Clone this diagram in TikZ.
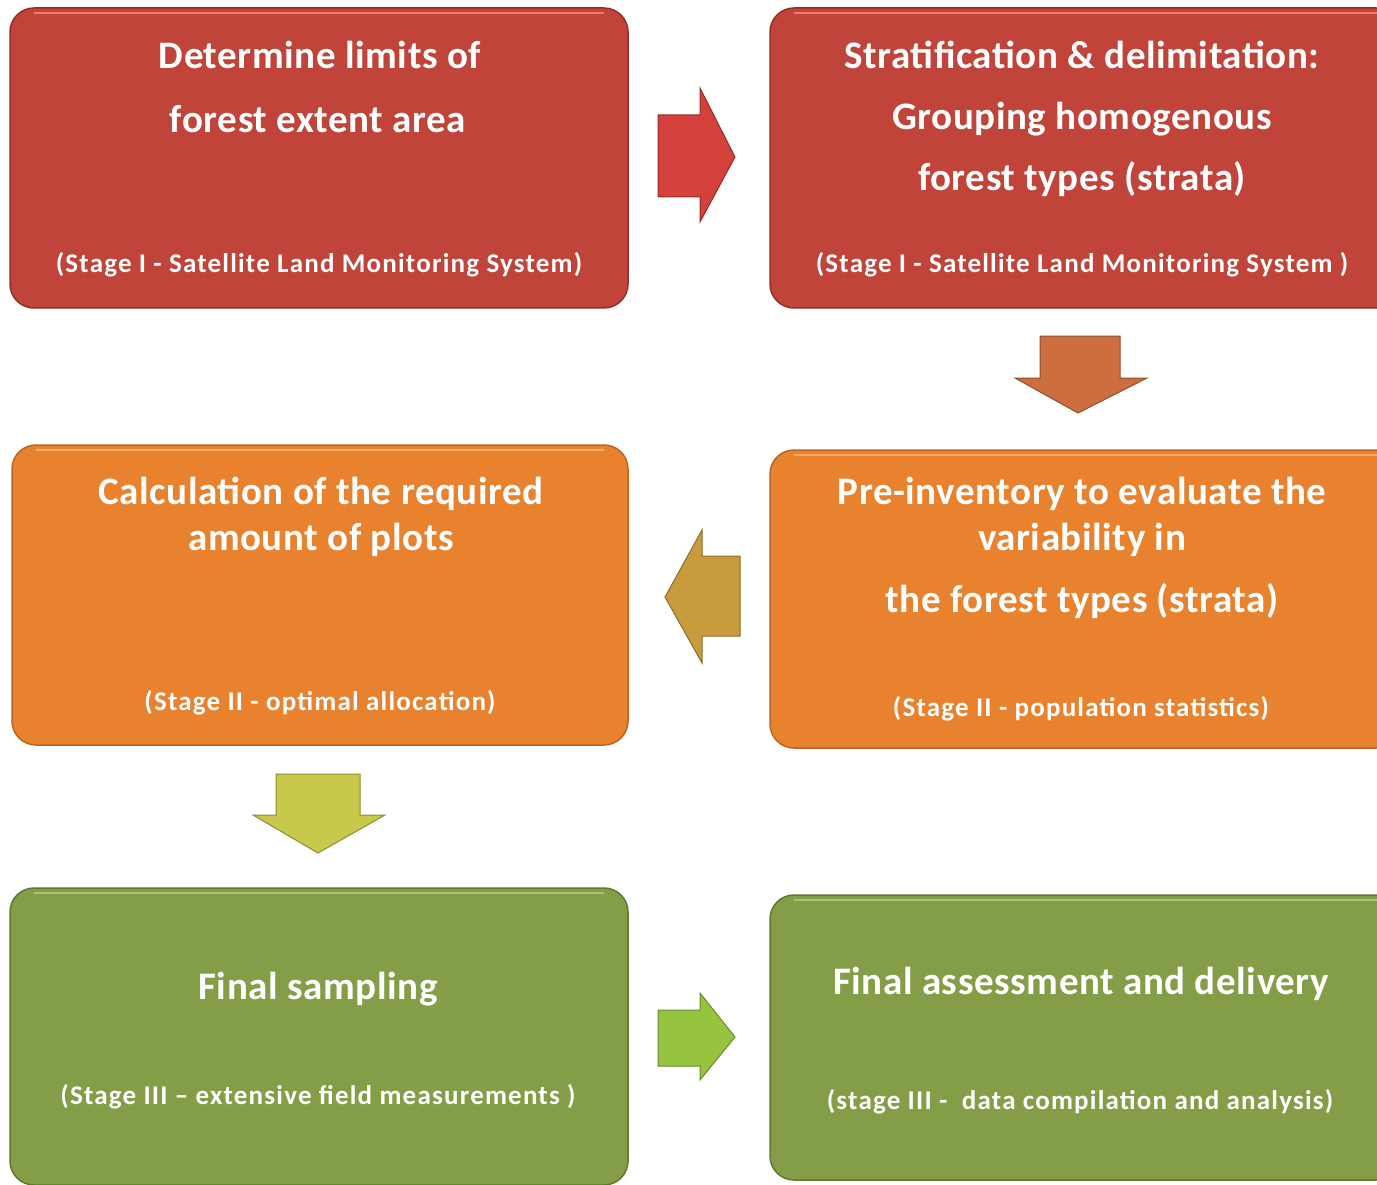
\documentclass[tikz,border=0pt]{standalone}
\usepackage{fontspec}
\setmainfont{Carlito}
\newfontfamily\titlefont[LetterSpace=1.5]{Carlito}
\newfontfamily\subfont[LetterSpace=4.5]{Carlito}
\usetikzlibrary{calc}
\definecolor{redbox}{RGB}{192,68,58}
\definecolor{rededge}{RGB}{150,45,38}
\definecolor{redhi}{RGB}{240,120,110}
\definecolor{orbox}{RGB}{232,130,46}
\definecolor{oredge}{RGB}{190,100,30}
\definecolor{orhi}{RGB}{250,170,100}
\definecolor{grbox}{RGB}{131,158,70}
\definecolor{gredge}{RGB}{95,120,50}
\definecolor{grhi}{RGB}{170,195,110}
\definecolor{arred}{RGB}{212,64,60}
\definecolor{arorange}{RGB}{205,110,62}
\definecolor{argold}{RGB}{200,155,60}
\definecolor{aryellow}{RGB}{200,200,74}
\definecolor{argreen}{RGB}{150,196,62}
\tikzset{
  x=1pt,y=-1pt,
  box/.style={rounded corners=24pt,line width=1.5pt},
  title/.style={text=white,font=\titlefont\bfseries\fontsize{39}{44}\selectfont,inner sep=0pt,anchor=center},
  sub/.style={text=white,font=\subfont\bfseries\fontsize{27}{30}\selectfont,inner sep=0pt,anchor=center},
  blockarrow/.style={line width=1pt,line join=miter}
}
\begin{document}
\begin{tikzpicture}
\useasboundingbox (0,0) rectangle (1377,1185);
% boxes
\fill[redbox,box,draw=rededge] (10,8) rectangle (628,308);
\fill[redbox,box,draw=rededge] (770,8) rectangle (1400,308);
\fill[orbox,box,draw=oredge] (12,445) rectangle (628,745);
\fill[orbox,box,draw=oredge] (770,450) rectangle (1400,748);
\fill[grbox,box,draw=gredge] (10,888) rectangle (628,1185);
\fill[grbox,box,draw=gredge] (770,895) rectangle (1400,1180);
% top highlights
\draw[redhi,line width=2pt] (34,13) -- (604,13);
\draw[redhi,line width=2pt] (794,13) -- (1377,13);
\draw[orhi,line width=2pt] (36,450) -- (604,450);
\draw[orhi,line width=2pt] (794,455) -- (1377,455);
\draw[grhi,line width=2pt] (34,893) -- (604,893);
\draw[grhi,line width=2pt] (794,900) -- (1377,900);
% box 1
\node[title] (b1a) at (320,55) {Determine limits of};
\node[title] (b1b) at (318,119) {forest extent area};
\node[sub] (b1s) at (319,265) {(Stage I - Satellite Land Monitoring System)};
% box 2
\node[title] (b2a) at (1082,55) {Stratification \& delimitation:};
\node[title] (b2b) at (1082,119) {Grouping homogenous};
\node[title] (b2c) at (1082,179) {forest types (strata)};
\node[sub] (b2s) at (1082,265) {(Stage I - Satellite Land Monitoring System )};
% box 3
\node[title] (b3a) at (321,494) {Calculation of the required};
\node[title] (b3b) at (321,540) {amount of plots};
\node[sub] (b3s) at (320,703) {(Stage II - optimal allocation)};
% box 4
\node[title] (b4a) at (1082,494) {Pre-inventory to evaluate the};
\node[title] (b4b) at (1082,540) {variability in};
\node[title] (b4c) at (1082,601) {the forest types (strata)};
\node[sub] (b4s) at (1081,709) {(Stage II - population statistics)};
% box 5
\node[title] (b5a) at (318,989) {Final sampling};
\node[sub] (b5s) at (318,1097) {(Stage III – extensive field measurements )};
% box 6
\node[title] (b6a) at (1081,984) {Final assessment and delivery};
\node[sub] (b6s) at (1080,1102) {(stage III -\ \ data compilation and analysis)};
% block arrows
\filldraw[blockarrow,fill=arred,draw=arred!70!black] (658,115) -- (700,115) -- (700,88) -- (735,157) -- (700,222) -- (700,197) -- (658,197) -- cycle;
\filldraw[blockarrow,fill=arorange,draw=arorange!70!black] (1040,336) -- (1120,336) -- (1120,378) -- (1147,378) -- (1078,413) -- (1015,378) -- (1040,378) -- cycle;
\filldraw[blockarrow,fill=argold,draw=argold!70!black] (740,556) -- (702,556) -- (702,530) -- (665,597) -- (702,663) -- (702,636) -- (740,636) -- cycle;
\filldraw[blockarrow,fill=aryellow,draw=aryellow!70!black] (276,774) -- (360,774) -- (360,815) -- (385,815) -- (318,853) -- (253,815) -- (276,815) -- cycle;
\filldraw[blockarrow,fill=argreen,draw=argreen!70!black] (658,1010) -- (700,1010) -- (700,993) -- (735,1037) -- (700,1080) -- (700,1066) -- (658,1066) -- cycle;
\end{tikzpicture}
\end{document}
